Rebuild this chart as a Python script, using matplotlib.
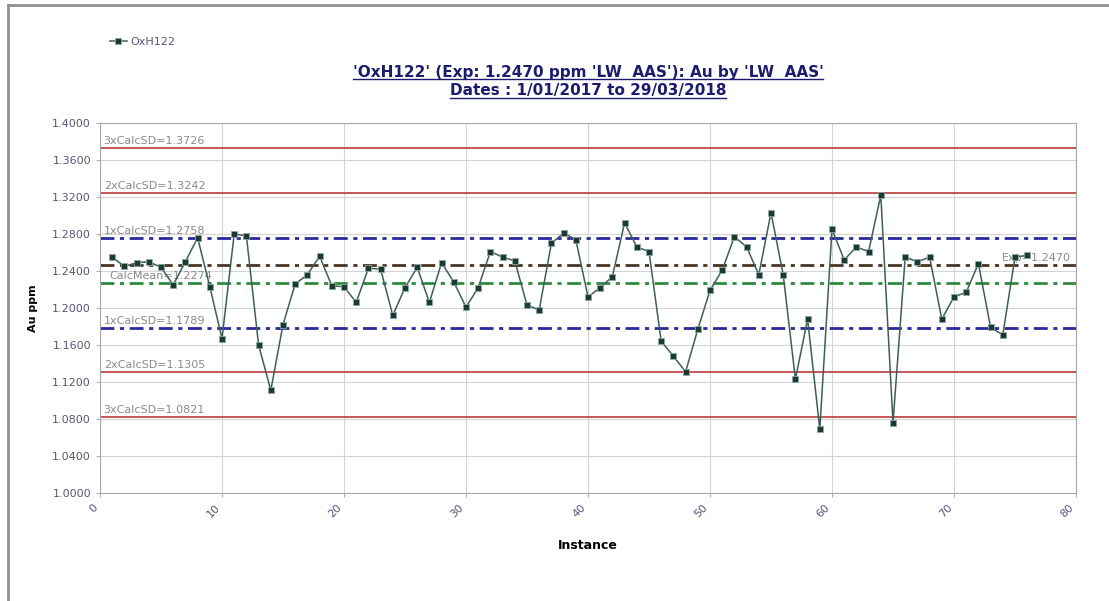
import numpy as np
import matplotlib
matplotlib.use("Agg")
import matplotlib.pyplot as plt
import matplotlib.ticker as mticker
from matplotlib.lines import Line2D

plt.rcParams["font.family"] = ["DejaVu Sans"]
plt.rcParams["figure.dpi"] = 100

# ── data ──────────────────────────────────────────────────────────────────────
instance = list(range(1, 77))
au_ppm = [
    1.255, 1.245, 1.249, 1.250, 1.244, 1.225, 1.250, 1.276, 1.223, 1.167,
    1.280, 1.278, 1.160, 1.111, 1.182, 1.226, 1.236, 1.256, 1.224, 1.223,
    1.206, 1.243, 1.242, 1.192, 1.222, 1.244, 1.206, 1.249, 1.228, 1.201,
    1.222, 1.261, 1.255, 1.251, 1.203, 1.198, 1.270, 1.281, 1.274, 1.212,
    1.222, 1.234, 1.292, 1.266, 1.261, 1.164, 1.148, 1.131, 1.177, 1.219,
    1.241, 1.277, 1.266, 1.236, 1.303, 1.236, 1.123, 1.188, 1.069, 1.285,
    1.252, 1.266, 1.261, 1.322, 1.076, 1.255, 1.250, 1.255, 1.188, 1.212,
    1.217, 1.248, 1.179, 1.171, 1.255, 1.257,
]

sd_labels = ["3xCalcSD", "2xCalcSD", "1xCalcSD", "1xCalcSD", "2xCalcSD", "3xCalcSD"]
sd_values = [1.3726, 1.3242, 1.2758, 1.1789, 1.1305, 1.0821]
calc_mean = 1.2274
exp_value = 1.2470

x_ticks = list(range(0, 81, 10))
y_ticks = [1.0 + 0.04 * i for i in range(11)]

title_1 = "'OxH122' (Exp: 1.2470 ppm 'LW  AAS'): Au by 'LW  AAS'"
title_2 = "Dates : 1/01/2017 to 29/03/2018"

# ── figure ────────────────────────────────────────────────────────────────────
fig = plt.figure(figsize=(11.09, 6.01))
ax = fig.add_axes([100 / 1109, 1 - 493 / 601, 976 / 1109, 370 / 601])

tick_col = "#55557a"
ax.set_xlim(0, 80)
ax.set_ylim(1.0, 1.4)
ax.set_xticks(x_ticks)
ax.set_yticks(y_ticks)
ax.yaxis.set_major_formatter(mticker.FormatStrFormatter("%.4f"))
ax.tick_params(colors="#b0b0b0", labelcolor=tick_col, labelsize=8, length=3)
for lbl in ax.get_xticklabels():
    lbl.set_rotation(45)
    lbl.set_ha("right")
    lbl.set_va("top")
ax.grid(True, color="#d4d4d4", linewidth=0.8)
ax.set_axisbelow(True)
for sp in ax.spines.values():
    sp.set_color("#a8a8a8")

# control limit lines
dashdot = (0, (5, 2, 1.5, 2))
sd_styles = {
    "3xCalcSD": dict(color="#c04848", linewidth=1.3, linestyle="-"),
    "2xCalcSD": dict(color="#c04848", linewidth=1.3, linestyle="-"),
    "1xCalcSD": dict(color="#2a2a9a", linewidth=2.0, linestyle=dashdot),
}
for name, val in zip(sd_labels, sd_values):
    ax.axhline(val, zorder=2, **sd_styles[name])
    ax.text(0.3, val + 0.002, f"{name}={val:.4f}", fontsize=8, color="#8a8a8a",
            ha="left", va="bottom", zorder=2)

ax.axhline(exp_value, color="#4a3422", linewidth=2.0, linestyle=dashdot, zorder=2)
ax.text(79.6, exp_value + 0.002, f"Exp={exp_value:.4f}", fontsize=8, color="#8a8a8a",
        ha="right", va="bottom", zorder=2)
ax.axhline(calc_mean, color="#2e8b3e", linewidth=2.0, linestyle=dashdot, zorder=2)
ax.text(0.8, calc_mean + 0.002, f"CalcMean={calc_mean:.4f}", fontsize=8, color="#8a8a8a",
        ha="left", va="bottom", zorder=2)

# series
ax.plot(instance, au_ppm, color="#3e5e5a", linewidth=1.1, marker="s", markersize=5,
        markerfacecolor="#1c3a30", markeredgecolor="#8aa8a8", markeredgewidth=0.6,
        label="OxH122", zorder=3)

ax.set_xlabel("Instance", fontsize=9, fontweight="bold", labelpad=14)
ax.set_ylabel("Au ppm", fontsize=8, fontweight="bold", labelpad=10)

# legend (top left)
handles, labels = ax.get_legend_handles_labels()
leg = fig.legend(handles, labels, loc="center left", bbox_to_anchor=(100 / 1109, 1 - 42 / 601),
                 frameon=False, fontsize=8, handlelength=1.5, handletextpad=0.3)
for t in leg.get_texts():
    t.set_color(tick_col)

# title, underlined
title_col = "#1c1c6e"
t1 = fig.text(588 / 1109, 1 - 72 / 601, title_1, ha="center", va="center",
              fontsize=11, fontweight="bold", color=title_col)
t2 = fig.text(588 / 1109, 1 - 91 / 601, title_2, ha="center", va="center",
              fontsize=11, fontweight="bold", color=title_col)
fig.canvas.draw()
renderer = fig.canvas.get_renderer()
for t in (t1, t2):
    bb = t.get_window_extent(renderer).transformed(fig.transFigure.inverted())
    fig.add_artist(Line2D([bb.x0, bb.x1], [bb.y0 + 0.001, bb.y0 + 0.001],
                          transform=fig.transFigure, color=title_col, linewidth=1))

# outer frame (top and left)
fig.add_artist(Line2D([8 / 1109, 1.0], [1 - 5 / 601, 1 - 5 / 601],
                      transform=fig.transFigure, color="#909090", linewidth=2))
fig.add_artist(Line2D([8 / 1109, 8 / 1109], [0.0, 1 - 5 / 601],
                      transform=fig.transFigure, color="#909090", linewidth=2))

fig.savefig("out.png", dpi=100)
